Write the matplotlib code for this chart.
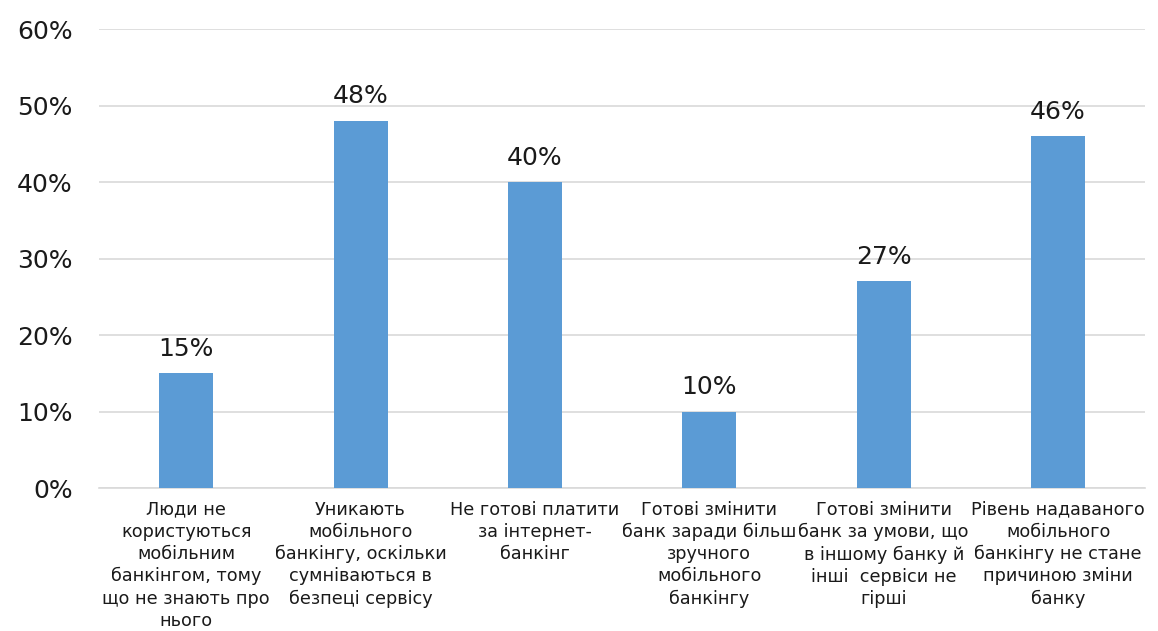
import numpy as np
import matplotlib.pyplot as plt

categories = [
    "Люди не\nкористуються\nмобільним\nбанкінгом, тому\nщо не знають про\nнього",
    "Уникають\nмобільного\nбанкінгу, оскільки\nсумніваються в\nбезпеці сервісу",
    "Не готові платити\nза інтернет-\nбанкінг",
    "Готові змінити\nбанк заради більш\nзручного\nмобільного\nбанкінгу",
    "Готові змінити\nбанк за умови, що\nв іншому банку й\nінші  сервіси не\nгірші",
    "Рівень надаваного\nмобільного\nбанкінгу не стане\nпричиною зміни\nбанку",
]
values = [15, 48, 40, 10, 27, 46]
yticks = [0, 10, 20, 30, 40, 50, 60]

plt.rcParams['font.family'] = ['DejaVu Sans']

fig = plt.figure(figsize=(11.58, 6.31), dpi=100)
ax = fig.add_axes([0.0855, 0.2266, 0.9035, 0.7274])

x = np.arange(len(values))
ax.bar(x, values, width=0.31, color='#5B9BD5', zorder=3)
for xi, v in zip(x, values):
    ax.annotate(f"{v}%", (xi, v), xytext=(0, 12.5), textcoords='offset points',
                ha='center', va='baseline', fontsize=18, color='#1a1a1a')

ax.set_xlim(-0.5, len(values) - 0.5)
ax.set_ylim(0, 60)
ax.set_yticks(yticks)
ax.set_yticklabels([f"{t}%" for t in yticks], fontsize=18, color='#1a1a1a')
ax.yaxis.grid(True, color='#D9D9D9', linewidth=1.2, zorder=0)
ax.tick_params(axis='y', length=0, pad=19)
ax.tick_params(axis='x', length=0, pad=9)
ax.set_xticks(x)
ax.set_xticklabels(categories, fontsize=12.7, color='#1a1a1a', linespacing=1.3)

for s in ['top', 'right', 'left']:
    ax.spines[s].set_visible(False)
ax.spines['bottom'].set_color('#D9D9D9')
ax.spines['bottom'].set_linewidth(1.2)

fig.savefig('out.png', dpi=100)
